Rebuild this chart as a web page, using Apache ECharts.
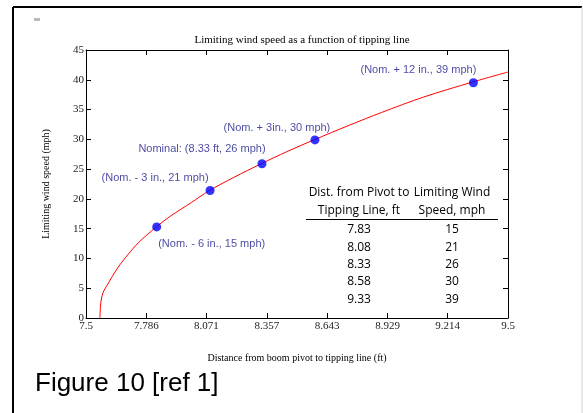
<!DOCTYPE html>
<html>
<head>
<meta charset="utf-8" />
<title>Limiting wind speed</title>
<script src="https://cdn.jsdelivr.net/npm/echarts@6/dist/echarts.min.js"></script>
<style type="text/css">
	html,body{margin:0;padding:0;background:#fff;}
	#main{width:583px;height:413px;}
</style>
</head>
<body>
<div id="main"></div>
<script type="text/javascript">
// curve (distance ft, speed mph)
var curveX = [7.566, 7.57, 7.58, 7.6, 7.65, 7.7, 7.75, 7.83, 7.9, 8.0, 8.08, 8.2, 8.33, 8.45, 8.58, 8.75, 8.9, 9.1, 9.33, 9.5];
var curveY = [0, 2.5, 4.2, 5.5, 8.4, 10.7, 12.7, 15.2, 17.1, 19.4, 21.3, 23.6, 25.9, 27.9, 29.9, 32.4, 34.5, 37.1, 39.6, 41.3];
// marked points
var ptX = [7.835, 8.088, 8.334, 8.585, 9.336];
var ptY = [15.3, 21.4, 25.9, 29.9, 39.5];
var ptLabels = ['(Nom. - 6 in., 15 mph)', '(Nom. - 3 in., 21 mph)', 'Nominal: (8.33 ft, 26 mph)', '(Nom. + 3in., 30 mph)', '(Nom. + 12 in., 39 mph)'];
// table
var tableDist = ['7.83', '8.08', '8.33', '8.58', '9.33'];
var tableSpeed = ['15', '21', '26', '30', '39'];
// x ticks
var xTicks = [7.5, 7.786, 8.071, 8.357, 8.643, 8.929, 9.214, 9.5];

var labelOffsets = [[55, 17], [-55, -13], [-60, -15], [-38, -12], [-55, -13]];
var serif = '"Liberation Serif","DejaVu Serif",serif';
var sans = '"Liberation Sans",Arial,sans-serif';
var tfont = '12px "Open Sans","Liberation Sans",sans-serif';

var curve = [];
for (var i = 0; i < curveX.length; i++) curve.push([curveX[i], curveY[i]]);
var pts = [];
for (var j = 0; j < ptX.length; j++) {
	pts.push({
		value: [ptX[j], ptY[j]],
		name: ptLabels[j],
		label: {offset: labelOffsets[j]}
	});
}

function cell(x, y, s) {
	return {type: 'text', x: x, y: y, style: {text: s, font: tfont, fill: '#000', textAlign: 'center', textVerticalAlign: 'middle'}};
}

var g = [
	{type: 'line', shape: {x1: 13, y1: 7, x2: 582, y2: 7}, style: {stroke: '#000', lineWidth: 2}},
	{type: 'line', shape: {x1: 13, y1: 7, x2: 13, y2: 413}, style: {stroke: '#000', lineWidth: 2}},
	{type: 'line', shape: {x1: 582, y1: 7, x2: 582, y2: 413}, style: {stroke: '#d0d0d0', lineWidth: 1}},
	{type: 'rect', shape: {x: 34, y: 18, width: 6, height: 3}, style: {fill: '#bbb'}},
	{type: 'text', left: 35, top: 371, style: {text: 'Figure 10 [ref 1]', font: '26px ' + sans, fill: '#000'}},
	// table header
	cell(359, 193, 'Dist. from Pivot to'),
	cell(359, 211, 'Tipping Line, ft'),
	cell(452, 193, 'Limiting Wind'),
	cell(452, 211, 'Speed, mph'),
	{type: 'line', shape: {x1: 306, y1: 219.5, x2: 498, y2: 219.5}, style: {stroke: '#000', lineWidth: 1}}
];
for (var k = 0; k < tableDist.length; k++) {
	g.push(cell(359, 230 + k * 17.3, tableDist[k]));
	g.push(cell(452, 230 + k * 17.3, tableSpeed[k]));
}

function fmtX(v) {
	return (Math.round(v * 1000) / 1000).toString();
}

var axisBase = {
	axisLine: {show: true, onZero: false, lineStyle: {color: '#000', width: 1}},
	splitLine: {show: false}
};

var myChart = echarts.init(document.getElementById('main'), null, {renderer: 'canvas'});
var option = {
	animation: false,
	backgroundColor: '#fff',
	title: {
		text: 'Limiting wind speed as a function of tipping line',
		left: 297, top: 30, textAlign: 'center',
		textStyle: {fontFamily: serif, fontSize: 11, fontWeight: 'normal', color: '#000'}
	},
	grid: {left: 86, right: 75, top: 50, bottom: 95},
	xAxis: [
		echarts.util.merge({
			type: 'value', position: 'bottom', min: 7.5, max: 9.5,
			name: 'Distance from boom pivot to tipping line (ft)',
			nameLocation: 'middle', nameGap: 35,
			nameTextStyle: {fontFamily: serif, fontSize: 10, color: '#000'},
			axisTick: {show: true, inside: true, length: 5, customValues: xTicks, lineStyle: {color: '#000'}},
			axisLabel: {customValues: xTicks, formatter: fmtX, fontFamily: serif, fontSize: 11, color: '#222', margin: 3}
		}, axisBase, true),
		echarts.util.merge({
			type: 'value', position: 'top', min: 7.5, max: 9.5,
			axisTick: {show: true, inside: true, length: 5, customValues: xTicks, lineStyle: {color: '#000'}},
			axisLabel: {show: false}
		}, axisBase, true)
	],
	yAxis: [
		echarts.util.merge({
			type: 'value', position: 'left', min: 0, max: 45, interval: 5,
			name: 'Limiting wind speed (mph)',
			nameLocation: 'middle', nameGap: 35,
			nameTextStyle: {fontFamily: serif, fontSize: 10, color: '#000'},
			axisTick: {show: true, inside: true, length: 5, lineStyle: {color: '#000'}},
			axisLabel: {fontFamily: serif, fontSize: 11, color: '#222', margin: 2}
		}, axisBase, true),
		echarts.util.merge({
			type: 'value', position: 'right', min: 0, max: 45, interval: 5,
			axisTick: {show: true, inside: true, length: 5, lineStyle: {color: '#000'}},
			axisLabel: {show: false}
		}, axisBase, true)
	],
	series: [{
		type: 'line',
		data: curve,
		smooth: 0.3,
		showSymbol: false,
		lineStyle: {color: '#ff0000', width: 1},
		z: 2
	}, {
		type: 'scatter',
		data: pts,
		symbolSize: 9,
		itemStyle: {color: '#0000ff'},
		label: {
			show: true,
			formatter: '{b}',
			position: 'inside',
			fontFamily: sans,
			fontSize: 11,
			color: '#1a1a8a'
		},
		z: 3
	}],
	graphic: g
};
myChart.setOption(option);
</script>
</body>
</html>
